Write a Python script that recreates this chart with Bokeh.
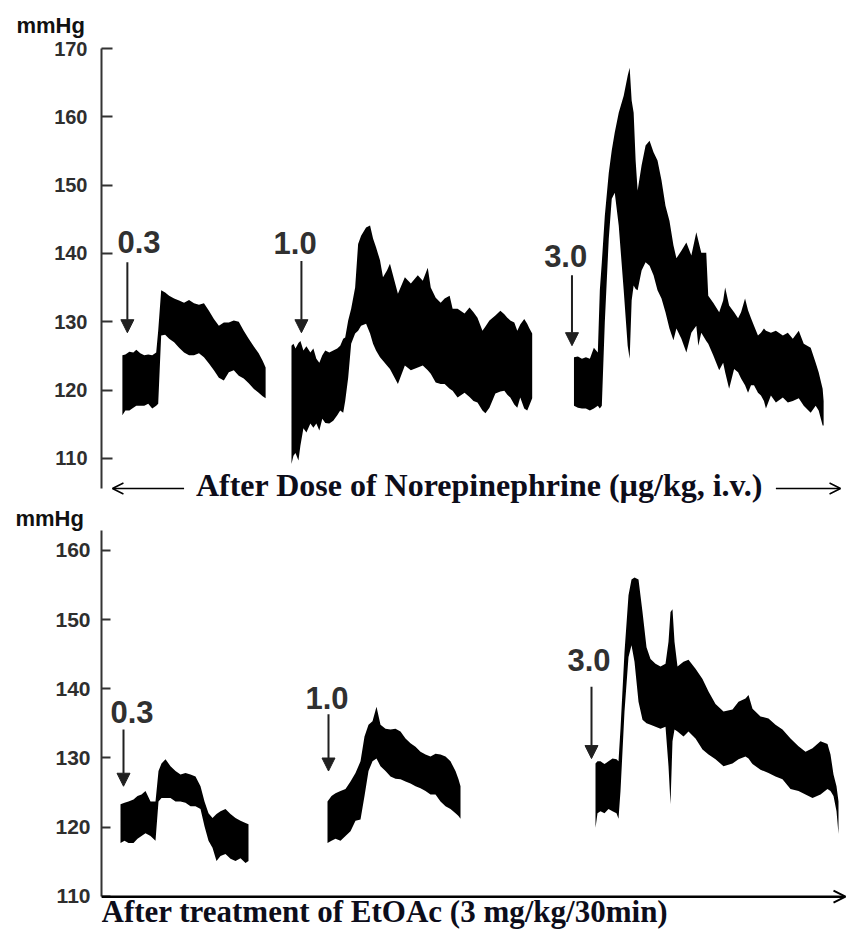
from bokeh.plotting import figure
from bokeh.models import Range1d, Label, Arrow, NormalHead, OpenHead, FixedTicker
from bokeh.layouts import column
from bokeh.embed import file_html
from bokeh.resources import INLINE

SANS = "Liberation Sans"
SERIF = "Liberation Serif"
INK = "#000000"
GREY = "#2e2e2e"

# ---------------- data (time in arbitrary units, pressure in mmHg) ----------------
# Top panel: responses to norepinephrine (before treatment)
ne_ticks = [110, 120, 130, 140, 150, 160, 170]
ne_doses = ["0.3", "1.0", "3.0"]
ne_dose_t = [26, 201, 473]

ne03_t = [21, 24, 28, 32, 35, 39, 43, 47, 51, 55, 57, 60, 64, 68, 73, 78, 83, 88, 93, 98,
          103, 108, 113, 118, 123, 128, 133, 138, 143, 148, 153, 158, 162, 165]
ne03_hi = [125.1, 125.2, 125.6, 125.5, 125.9, 125.4, 125.1, 125.2, 125.1, 125.5, 128.7, 134.6,
           134.3, 133.8, 133.4, 133.1, 132.8, 133.2, 132.7, 132.5, 132.7, 131.6, 130.4, 129.4,
           129.9, 129.9, 130.2, 130.0, 128.7, 127.5, 126.4, 125.4, 124.3, 123.3]
ne03_lo = [116.3, 117.0, 117.0, 117.4, 117.7, 117.7, 117.7, 118.0, 117.3, 117.7, 118.0, 128.0,
           128.1, 127.5, 127.0, 126.2, 125.5, 125.1, 125.1, 125.4, 124.8, 123.9, 122.9, 121.8,
           121.4, 122.6, 122.9, 122.1, 121.7, 121.0, 120.2, 119.6, 119.1, 118.8]

ne10_t = [191, 193, 195, 198, 200, 203, 206, 210, 213, 216, 219, 222, 225, 229, 233, 237, 240,
          243, 245, 248, 251, 255, 258, 261, 266, 270, 273, 276, 280, 283, 287, 290,
          298, 305, 311, 318, 323, 328, 331, 336, 341, 345, 350, 353, 358, 365, 370, 374, 378,
          383, 386, 390, 396, 401, 405, 408, 411, 415, 418, 421, 425, 428, 430, 433]
ne10_hi = [126.5, 126.8, 126.1, 126.9, 127.2, 125.8, 126.4, 125.5, 126.1, 124.6, 124.0, 125.1,
           125.8, 125.5, 125.8, 126.1, 126.5, 127.5, 127.7, 130.2, 131.9, 135.0, 141.4, 142.6,
           143.8, 144.1, 142.2, 140.9, 139.0, 136.5, 137.5, 138.5,
           134.1, 136.5, 135.6, 136.8, 136.0, 137.9, 135.0, 133.5, 132.8, 133.4, 133.8, 131.9,
           131.9, 131.2, 132.1, 131.4, 130.6, 128.7, 129.3, 130.2, 130.9, 131.6, 131.1, 130.6,
           130.2, 129.9, 128.7, 129.6, 130.4, 129.7, 129.1, 128.3]
ne10_lo = [109.2, 110.4, 110.8, 109.7, 111.9, 114.4, 113.8, 115.1, 114.5, 115.1, 114.1, 115.8,
           115.2, 115.1, 115.5, 116.3, 117.0, 116.7, 118.4, 121.8, 126.8, 128.3, 128.7, 129.4,
           129.7, 128.3, 126.8, 125.8, 124.8, 124.3, 123.6, 123.1,
           120.9, 123.6, 122.9, 123.3, 123.6, 122.9, 122.4, 121.1, 120.9, 120.9, 120.2, 119.9,
           118.9, 119.6, 119.0, 118.4, 118.2, 117.0, 116.6, 117.4, 119.5, 119.8, 119.9, 119.3,
           118.9, 117.9, 117.4, 118.9, 117.3, 117.0, 117.7, 118.8]

ne30_t = [475, 479, 483, 487, 491, 495, 499, 501, 503, 506, 510, 513, 516, 520, 525, 529, 531,
          533, 535, 537, 539, 543, 547, 551, 555, 559, 563, 567, 571, 575,
          578, 583, 588, 593, 598, 600, 603, 608, 610, 615, 621, 625, 627, 631, 636, 640, 643,
          647, 650, 653, 656, 660, 663, 666, 668, 673, 678, 685, 690, 695, 701, 706, 713, 718,
          721, 725, 726]
ne30_hi = [124.8, 124.9, 124.6, 124.8, 124.6, 126.2, 125.5, 134.6, 138.7, 145.5, 151.8, 155.1,
           157.7, 160.6, 163.1, 166.0, 167.2, 162.4, 160.6, 153.6, 149.2, 152.9, 155.8, 156.5,
           154.8, 153.6, 150.7, 147.0, 144.8, 141.2,
           139.3, 140.4, 141.6, 139.7, 143.1, 141.9, 140.1, 140.1, 133.8, 132.8, 131.4, 133.1,
           135.0, 132.4, 131.4, 130.5, 131.4, 133.4, 131.7, 130.5, 129.4, 128.0, 128.4, 129.0,
           128.7, 128.4, 128.7, 128.0, 128.4, 127.5, 128.7, 126.8, 126.2, 124.0, 122.6, 120.2,
           118.4]
ne30_lo = [117.7, 117.4, 117.3, 117.3, 117.0, 117.3, 117.7, 117.3, 117.7, 129.9, 142.2, 148.0,
           148.9, 144.1, 134.6, 126.5, 124.6, 133.1, 135.3, 134.8, 134.6, 137.5, 138.7, 138.2,
           136.8, 134.6, 133.4, 131.4, 129.0, 127.3,
           129.0, 127.5, 125.5, 128.4, 129.4, 126.5, 128.4, 127.2, 126.8, 125.1, 122.9, 124.0,
           122.6, 120.2, 123.1, 122.6, 121.7, 120.7, 119.6, 120.7, 120.7, 119.6, 119.2, 118.4,
           117.3, 119.2, 118.2, 118.9, 118.2, 118.4, 118.8, 117.7, 116.7, 117.7, 117.0, 114.8,
           114.8]

# Bottom panel: responses after EtOAc treatment
et_ticks = [110, 120, 130, 140, 150, 160]
et_doses = ["0.3", "1.0", "3.0"]
et_dose_t = [22, 227, 490]

et03_t = [19, 23, 27, 32, 36, 40, 44, 49, 54, 57, 60, 64, 69, 74, 79, 84, 89, 94, 99, 103, 107,
          111, 115, 119, 124, 129, 134, 139, 144, 147]
et03_hi = [123.3, 123.5, 123.7, 124.0, 124.5, 124.7, 125.2, 123.7, 123.7, 128.1, 129.2, 129.8,
           128.8, 128.1, 127.6, 127.8, 127.6, 127.3, 125.9, 123.7, 122.0, 121.3, 121.9, 122.3,
           122.6, 121.9, 121.3, 120.9, 120.6, 120.4]
et03_lo = [117.7, 118.0, 117.7, 117.7, 118.3, 118.7, 119.1, 118.7, 118.0, 123.7, 124.2, 124.2,
           124.2, 123.7, 123.7, 123.5, 123.0, 123.0, 122.6, 120.1, 118.0, 117.0, 115.1, 115.8,
           116.1, 115.4, 115.1, 115.5, 114.8, 115.1]

et10_t = [226, 230, 234, 239, 244, 249, 254, 259, 263, 267, 271, 275, 279, 284, 289, 294, 299,
          304, 309, 314, 319, 324, 329, 334, 339, 344, 349, 354, 357, 359]
et10_hi = [123.7, 124.5, 124.9, 125.2, 125.5, 126.6, 127.8, 129.5, 133.1, 134.8, 135.3, 137.4,
           134.8, 134.2, 134.1, 134.2, 133.8, 132.8, 132.1, 131.6, 130.9, 130.5, 130.2, 130.6,
           130.5, 130.2, 129.5, 128.1, 126.9, 125.9]
et10_lo = [117.7, 118.0, 118.3, 118.0, 118.7, 119.4, 120.9, 121.1, 124.5, 128.1, 129.5, 129.9,
           128.8, 128.1, 127.3, 127.0, 126.9, 126.6, 126.3, 125.9, 125.6, 125.2, 124.7, 124.7,
           123.7, 123.0, 122.6, 122.0, 121.6, 121.2]

et30_t = [494, 496, 499, 503, 507, 511, 515, 517, 519, 523, 527, 530, 533, 537, 541, 545, 549,
          554, 559, 564, 567, 569, 571, 573,
          576, 582, 587, 594, 601, 607, 614, 622, 631, 637, 644, 647, 651, 659, 667, 674, 681,
          689, 697, 704, 711, 719, 726, 729, 732, 735, 737]
et30_hi = [129.2, 129.5, 129.5, 129.1, 129.5, 129.9, 129.8, 129.5, 134.2, 145.3, 153.5, 155.8,
           156.1, 155.8, 151.1, 146.0, 144.3, 143.6, 143.2, 143.6, 146.8, 151.1, 151.5, 146.8,
           143.2, 143.9, 144.2, 142.9, 141.4, 139.6, 137.8, 136.7, 137.0, 138.1, 138.6, 139.1,
           137.1, 136.0, 135.7, 134.8, 134.1, 132.8, 131.7, 130.9, 131.4, 132.4, 132.0, 130.5,
           127.6, 125.9, 123.7]
et30_lo = [119.9, 122.0, 122.3, 122.0, 122.6, 122.3, 122.0, 121.2, 125.2, 136.7, 144.6, 146.3,
           143.9, 138.1, 135.5, 135.0, 134.8, 134.5, 134.2, 134.5, 128.8, 123.3, 132.4, 134.1,
           133.8, 133.1, 133.8, 132.8, 131.2, 130.5, 129.8, 128.8, 129.2, 129.8, 130.2, 129.9,
           129.1, 128.3, 127.8, 127.3, 126.9, 125.5, 125.2, 124.7, 124.2, 124.7, 125.5, 125.2,
           124.5, 122.3, 119.0]

top_title = "After Dose of Norepinephrine (\u00b5g/kg, i.v.)"
bottom_title = "After treatment of  EtOAc (3 mg/kg/30min)"
unit = "mmHg"


def make_fig(height, y_lo, y_hi, bounds, x_hi, left, top, ticks, tick_px, standoff, tick_in):
    p = figure(width=851, height=height, x_range=Range1d(0, x_hi), y_range=Range1d(y_lo, y_hi),
               x_axis_location=None, toolbar_location=None, output_backend="svg",
               min_border_left=left, min_border_right=4, min_border_top=top,
               min_border_bottom=0)
    p.grid.visible = False
    p.outline_line_color = None
    p.background_fill_color = "white"
    p.border_fill_color = "white"
    ax = p.yaxis[0]
    ax.bounds = bounds
    ax.ticker = FixedTicker(ticks=ticks)
    ax.axis_line_width = 2
    ax.axis_line_color = "#333333"
    ax.major_tick_line_width = 2
    ax.major_tick_line_color = "#333333"
    ax.major_tick_in = tick_in
    ax.major_tick_out = 0
    ax.minor_tick_in = 0
    ax.minor_tick_out = 0
    ax.major_label_standoff = standoff
    ax.major_label_text_font = SANS
    ax.major_label_text_font_style = "bold"
    ax.major_label_text_font_size = tick_px
    ax.major_label_text_color = GREY
    t = p.title
    t.text = unit
    t.align = "left"
    t.text_font = SANS
    t.text_font_style = "bold"
    t.text_font_size = "22px"
    t.text_color = "#111111"
    return p


def add_dose(p, t, v_label, v_start, v_end, text, dx):
    p.add_layout(Label(x=t + dx, y=v_label, text=text, text_font=SANS, text_font_style="bold",
                       text_font_size="31px", text_color="#303030", text_align="left",
                       text_baseline="middle"))
    p.add_layout(Arrow(end=NormalHead(size=13, fill_color="#202020", line_color="#202020"),
                       x_start=t, y_start=v_start, x_end=t, y_end=v_end,
                       line_width=2, line_color="#202020"))


# ---------------- top figure ----------------
top = make_fig(503, 103.4, 170, (105.6, 170), 750, 97, 48, ne_ticks, "20px", 14, 11)
top.title.offset = -85
top.title.vertical_align = "top"
top.title.standoff = 18
for tt, hi, lo in [(ne03_t, ne03_hi, ne03_lo), (ne10_t, ne10_hi, ne10_lo), (ne30_t, ne30_hi, ne30_lo)]:
    top.varea(x=tt, y1=lo, y2=hi, fill_color=INK)

add_dose(top, ne_dose_t[0], 141.7, 138.7, 128.4, ne_doses[0], -10)
add_dose(top, ne_dose_t[1], 141.5, 138.9, 128.4, ne_doses[1], -28)
add_dose(top, ne_dose_t[2], 139.6, 136.8, 126.5, ne_doses[2], -28)

top.add_layout(Label(x=380, y=106.1, text=top_title, text_font=SERIF, text_font_style="bold",
                     text_font_size="32px", text_color="#0d0d1a", text_align="center",
                     text_baseline="middle"))
top.add_layout(Arrow(end=OpenHead(size=11, line_width=1.5, line_color=INK),
                     x_start=83, y_start=105.6, x_end=11, y_end=105.6,
                     line_width=1.5, line_color=INK))
top.add_layout(Arrow(end=OpenHead(size=11, line_width=1.5, line_color=INK),
                     x_start=678, y_start=105.6, x_end=743, y_end=105.6,
                     line_width=1.5, line_color=INK))

# ---------------- bottom figure ----------------
bot = make_fig(429, 104.75, 162.88, (109.93, 162.88), 746, 101, 25, et_ticks, "21px", 11, 9)
bot.title.offset = -86
bot.title.vertical_align = "bottom"
bot.title.standoff = 0
for tt, hi, lo in [(et03_t, et03_hi, et03_lo), (et10_t, et10_hi, et10_lo), (et30_t, et30_hi, et30_lo)]:
    bot.varea(x=tt, y1=lo, y2=hi, fill_color=INK)

add_dose(bot, et_dose_t[0], 136.7, 134.1, 125.9, et_doses[0], -13)
add_dose(bot, et_dose_t[1], 138.7, 136.3, 128.1, et_doses[1], -23)
add_dose(bot, et_dose_t[2], 144.2, 140.3, 129.9, et_doses[2], -24)

bot.add_layout(Arrow(end=OpenHead(size=12, line_width=2, line_color=INK),
                     x_start=0, y_start=109.93, x_end=744, y_end=109.93,
                     line_width=2.5, line_color=INK))
bot.add_layout(Label(x=0, y=107.75, text=bottom_title, text_font=SERIF, text_font_style="bold",
                     text_font_size="31px", text_color="#0d0d1a", text_align="left",
                     text_baseline="middle"))

layout = column(top, bot, spacing=0)
open("out.html", "w").write(file_html(layout, INLINE))
